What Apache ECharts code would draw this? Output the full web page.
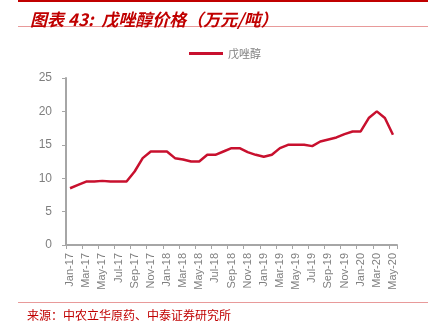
<!DOCTYPE html>
<html><head><meta charset="utf-8">
<script src="https://cdn.jsdelivr.net/npm/echarts@6/dist/echarts.min.js"></script>
<style>html,body{margin:0;padding:0;background:#fff}#c{width:428px;height:333px}</style>
</head><body><div id="c"></div>
<script>
const categories = ["Jan-17","Feb-17","Mar-17","Apr-17","May-17","Jun-17","Jul-17","Aug-17","Sep-17","Oct-17","Nov-17","Dec-17",
"Jan-18","Feb-18","Mar-18","Apr-18","May-18","Jun-18","Jul-18","Aug-18","Sep-18","Oct-18","Nov-18","Dec-18",
"Jan-19","Feb-19","Mar-19","Apr-19","May-19","Jun-19","Jul-19","Aug-19","Sep-19","Oct-19","Nov-19","Dec-19",
"Jan-20","Feb-20","Mar-20","Apr-20","May-20"];
const seriesName = "戊唑醇";
const values = [8.5,9.0,9.5,9.5,9.6,9.5,9.5,9.5,11.0,13.0,14.0,14.0,
14.0,13.0,12.8,12.5,12.5,13.5,13.5,14.0,14.5,14.5,13.9,13.5,
13.2,13.5,14.5,15.0,15.0,15.0,14.8,15.5,15.8,16.1,16.6,17.0,
17.0,19.0,20.0,19.0,16.5];
const yTicks = {min:0, max:25, interval:5};
const titleText = "图表 43:  戊唑醇价格（万元/吨）";
const sourceText = "来源：中农立华原药、中泰证券研究所";

const chart = echarts.init(document.getElementById('c'), null, {renderer:'canvas'});
const red = '#c8102e';
chart.setOption({
  animation:false,
  title:{text:titleText, left:25, top:6,
    textStyle:{color:'#c00000', fontSize:17, fontWeight:'bold', fontStyle:'italic', fontFamily:'"Noto Sans CJK SC"'}},
  legend:{data:[seriesName], top:43, left:184, itemWidth:34, itemHeight:3, itemGap:4,
    icon:'rect',
    textStyle:{color:'#7f7f7f', fontSize:11, fontFamily:'"Noto Sans CJK SC"'}},
  grid:{left:66, right:31, top:78, bottom:88, containLabel:false},
  xAxis:{type:'category', data:categories, boundaryGap:true,
    axisLine:{lineStyle:{color:'#a6a6a6', width:2}},
    axisTick:{show:true, interval:1, length:4, lineStyle:{color:'#a6a6a6', width:1}},
    axisLabel:{interval:1, rotate:90, color:'#7f7f7f', fontSize:11, margin:8, fontFamily:'Arial, "Liberation Sans"'}},
  yAxis:{type:'value', min:yTicks.min, max:yTicks.max, interval:yTicks.interval,
    axisLine:{show:true, lineStyle:{color:'#a6a6a6', width:2}},
    axisTick:{show:true, length:4, lineStyle:{color:'#a6a6a6'}},
    splitLine:{show:false},
    axisLabel:{color:'#7f7f7f', fontSize:12, margin:14, fontFamily:'Arial, "Liberation Sans"'}},
  series:[{name:seriesName, type:'line', data:values, showSymbol:false, symbol:'none',
    lineStyle:{color:red, width:2.5}, itemStyle:{color:red}}],
  graphic:[
    {type:'rect', shape:{x:18, y:0, width:410, height:2}, style:{fill:'#c00000'}},
    {type:'rect', shape:{x:18, y:26, width:410, height:1}, style:{fill:'#e89a9a'}},
    {type:'rect', shape:{x:18, y:302, width:410, height:1}, style:{fill:'#e89a9a'}},
    {type:'text', left:27, top:309, style:{text:sourceText, fill:'#c00000', fontSize:12, fontFamily:'"Noto Sans CJK SC"'}}
  ]
});
</script></body></html>
